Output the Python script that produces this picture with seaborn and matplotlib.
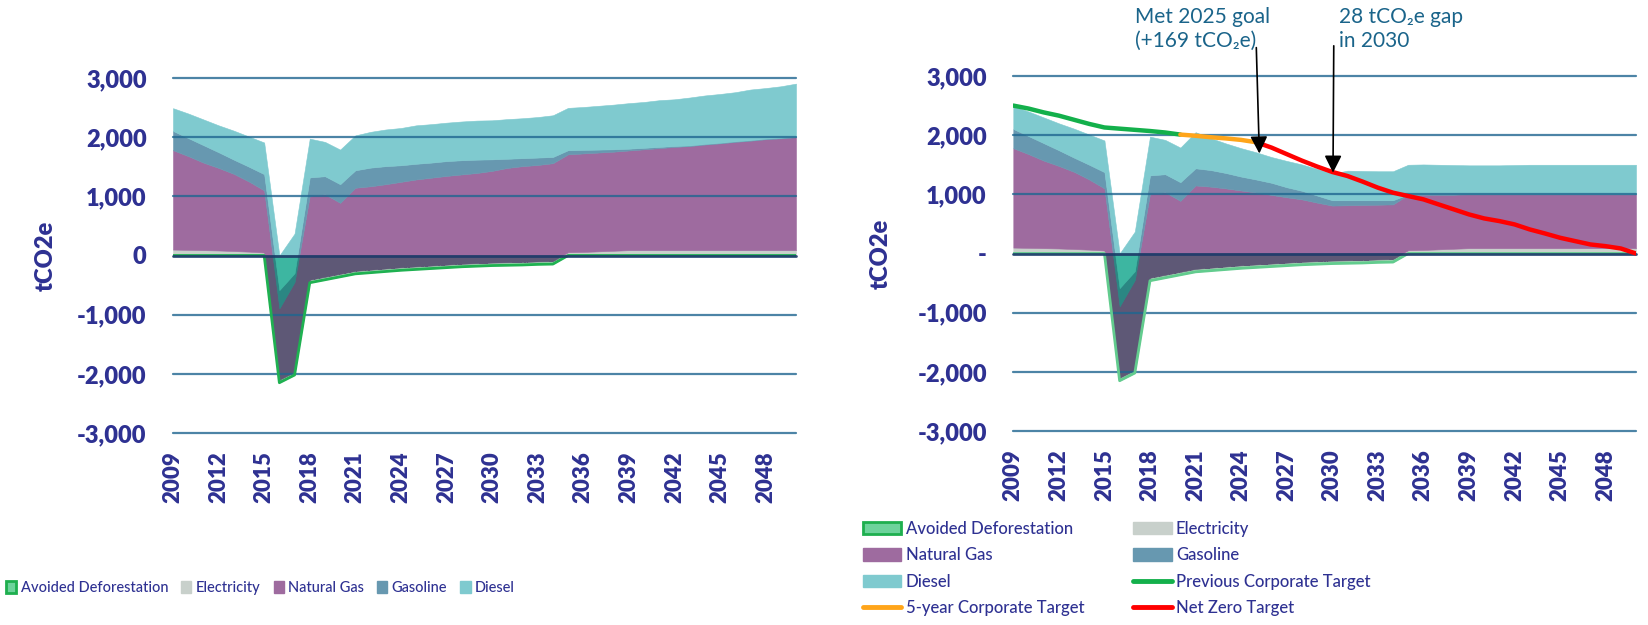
import numpy as np
import matplotlib
matplotlib.use("Agg")
import matplotlib.pyplot as plt
from matplotlib.patches import Patch
from matplotlib.lines import Line2D
from matplotlib.path import Path
import seaborn as sns

# ---- data (tCO2e per year) ----
years = list(range(2009, 2051))

avoided_deforestation = [0, 0, 0, 0, 0, 0, 0,
                         -2150, -2020, -460, -410, -360, -310, -290, -270, -250,
                         -235, -220, -205, -190, -180, -170, -165, -160, -150, -145,
                         0, 0, 0, 0, 0, 0, 0, 0, 0, 0, 0, 0, 0, 0, 0, 0]
electricity = [100, 95, 90, 85, 75, 65, 50,
               50, 50, 50, 50, 50, 50, 50, 50, 50,
               50, 50, 50, 50, 50, 50, 50, 50, 50, 50,
               55, 60, 70, 80, 90, 90, 90, 90, 90, 90, 90, 90, 90, 90, 90, 90]

# left panel: current trajectory
natural_gas_bau = [1680, 1585, 1480, 1395, 1305, 1185, 1050,
                   1205, 1520, 1420, 1395, 1200,
                   1405, 1410, 1425, 1445, 1470, 1485, 1500, 1510, 1525, 1550,
                   1595, 1620, 1630, 1655, 1655, 1665, 1670, 1675, 1685, 1705,
                   1725, 1745, 1760, 1785, 1805, 1830, 1850, 1875, 1890, 1910]
gasoline_bau = [325, 305, 295, 265, 240, 250, 275,
                310, 150, 310, 305, 315,
                295, 315, 305, 280, 265, 255, 250, 240, 225, 195,
                155, 135, 125, 105, 70, 60, 50, 40, 30, 25,
                20, 15, 10, 10, 10, 10, 10, 10, 10, 10]
diesel_bau = [385, 415, 435, 455, 490, 510, 535,
              585, 670, 655, 580, 585,
              590, 605, 620, 630, 650, 650, 650, 655, 660, 660,
              670, 675, 685, 705, 715, 725, 740, 755, 770, 775,
              790, 790, 810, 820, 825, 830, 855, 855, 870, 895]

# right panel: reduction pathway
natural_gas_plan = [1680, 1585, 1480, 1395, 1305, 1185, 1050,
                    1205, 1520, 1420, 1395, 1200,
                    1410, 1370, 1320, 1265, 1215, 1160, 1105, 1055, 990, 930,
                    930, 930, 925, 925, 935, 935, 925, 915, 910, 910,
                    910, 910, 910, 910, 910, 910, 910, 910, 910, 910]
gasoline_plan = [325, 305, 295, 265, 240, 250, 275,
                 310, 150, 310, 305, 315,
                 290, 280, 260, 235, 220, 205, 170, 145, 120, 90,
                 85, 80, 75, 70, 10, 5, 5, 5, 5, 5,
                 5, 5, 5, 5, 5, 5, 5, 5, 5, 5]
diesel_plan = [385, 415, 435, 455, 490, 510, 535,
               585, 670, 655, 580, 585,
               610, 540, 500, 480, 460, 435, 445, 445, 450, 450,
               500, 495, 490, 490, 500, 505, 500, 495, 485, 485,
               485, 490, 495, 495, 495, 495, 495, 495, 495, 495]

prev_target_years = list(range(2009, 2021))
prev_target = [2500, 2450, 2385, 2330, 2260, 2190, 2130, 2110, 2090, 2070, 2045, 2010]
five_year_years = list(range(2020, 2026))
five_year_target = [2010, 1990, 1965, 1945, 1920, 1880]
net_zero_years = list(range(2025, 2051))
net_zero_target = [1880, 1790, 1680, 1570, 1470, 1378, 1310, 1215, 1113, 1028,
                   971, 915, 830, 746, 661, 593, 548, 492, 407, 339,
                   266, 209, 153, 124, 85, 0]

series_names = ["Electricity", "Natural Gas", "Gasoline", "Diesel"]
fill_colors = ["#C8D0CB", "#9E6B9F", "#6798B0", "#7FCACF"]
under_colors = ["#A3D2B3", "#5E5876", "#2B8783", "#3DB6A1"]  # where they overlap the negative offset
ad_green = "#6DD39B"
navy = "#2E3192"
grid_col = "#1F6690"

sns.set_style("white")
plt.rcParams["font.family"] = ["Lato", "DejaVu Sans"]

fig = plt.figure(figsize=(16.48, 6.25), dpi=100)
ax_l = fig.add_axes([173 / 1648, 1 - 433 / 625, 623 / 1648, 355 / 625])
ax_r = fig.add_axes([1013.3 / 1648, 1 - 431 / 625, 622.7 / 1648, 355 / 625])


def draw_panel(ax, gas_nat, gasoline, diesel, edge, zero_label):
    x = np.array(years, float)
    ad = np.array(avoided_deforestation, float)
    ax.fill_between(x, 0, ad, color=ad_green, lw=0, zorder=1)
    verts = np.column_stack([np.r_[x, x[::-1], x[0]],
                             np.r_[ad, np.zeros_like(ad), ad[0]]])
    clip = Path(verts, closed=True)
    base = ad.copy()
    for vals, c, dark in zip([electricity, gas_nat, gasoline, diesel],
                             fill_colors, under_colors):
        top = base + np.array(vals, float)
        ax.fill_between(x, base, top, color=c, ec=c, lw=0.4, zorder=2)
        ov = ax.fill_between(x, base, top, color=dark, ec=dark, lw=0.4, zorder=2.5)
        ov.set_clip_path(clip, ax.transData)
        base = top
    sns.lineplot(x=years, y=avoided_deforestation, ax=ax, color=edge, lw=2,
                 zorder=4, legend=False)

    for v in range(-3000, 3001, 1000):
        if v == 0:
            ax.axhline(v, color="#1D3B6A", lw=2, alpha=0.9, zorder=4.5, clip_on=False)
        else:
            ax.axhline(v, color=grid_col, lw=1.6, alpha=0.8, zorder=3, clip_on=False)

    ax.set_xlim(2009, 2050)
    ax.set_ylim(-3000, 3000)
    ticks = list(range(-3000, 3001, 1000))
    labels = [zero_label if t == 0 else f"{t:,}" for t in ticks]
    ax.set_yticks(ticks, labels=labels, fontsize=17, fontweight="heavy", color=navy)
    ax.set_xticks(years[::3], labels=[str(y) for y in years[::3]], rotation=90,
                  fontsize=16, fontweight="heavy", color=navy)
    ax.tick_params(axis="y", length=0, pad=19)
    ax.tick_params(axis="x", length=0, pad=13)
    ax.set_ylabel("tCO2e", fontsize=17, fontweight="heavy", color=navy)
    ax.set_xlabel("")
    for s in ax.spines.values():
        s.set_visible(False)


draw_panel(ax_l, natural_gas_bau, gasoline_bau, diesel_bau, "#1FB151", "0")
ax_l.yaxis.set_label_coords(-0.186, 0.5)
draw_panel(ax_r, natural_gas_plan, gasoline_plan, diesel_plan, "#62CC8E", "-")
ax_r.yaxis.set_label_coords(-0.195, 0.5)

# target lines
sns.lineplot(x=prev_target_years, y=prev_target, ax=ax_r, color="#13B04B", lw=3.2, zorder=6)
sns.lineplot(x=five_year_years, y=five_year_target, ax=ax_r, color="#FFA51A", lw=3.2, zorder=6)
sns.lineplot(x=net_zero_years, y=net_zero_target, ax=ax_r, color="#FF0000", lw=3.2, zorder=6)

# callouts
arrow = dict(arrowstyle="-|>", color="black", lw=1.2, mutation_scale=26,
             shrinkA=0, shrinkB=0)
ax_r.annotate("", xy=(2025.2, 1690), xytext=(2025.0, 3480), arrowprops=arrow,
              annotation_clip=False, zorder=7)
ax_r.annotate("", xy=(2030.05, 1366), xytext=(2030.1, 3510), arrowprops=arrow,
              annotation_clip=False, zorder=7)
note_font = dict(fontsize=15, color="#1A648A", va="top", ha="left",
                 linespacing=1.25, family=["Lato", "DejaVu Sans"])
fig.text(1135 / 1648, 1 - 7 / 625, "Met 2025 goal\n(+169 tCO\u2082e)", **note_font)
fig.text(1339 / 1648, 1 - 7 / 625, "28 tCO\u2082e gap\nin 2030", **note_font)

# legends
patches = [Patch(facecolor=ad_green, edgecolor="#1EAF4E", lw=2)] + \
          [Patch(facecolor=c, edgecolor=c) for c in fill_colors]
names = ["Avoided Deforestation"] + series_names
fig.legend(patches, names, loc="center left", bbox_to_anchor=(6 / 1648, 1 - 588 / 625),
           ncol=5, frameon=False, handlelength=0.7, handleheight=0.8,
           handletextpad=0.3, columnspacing=0.9, prop=dict(size=10.5, weight="medium"),
           labelcolor=navy, borderpad=0, borderaxespad=0)

line_handles = [Line2D([], [], color="#13B04B", lw=3.5),
                Line2D([], [], color="#FFA51A", lw=3.5),
                Line2D([], [], color="#FF0000", lw=3.5)]
# column-major order so rows read left to right
r_handles = [patches[0], patches[2], patches[4], line_handles[1],
             patches[1], patches[3], line_handles[0], line_handles[2]]
r_names = ["Avoided Deforestation", "Natural Gas", "Diesel", "5-year Corporate Target",
           "Electricity", "Gasoline", "Previous Corporate Target", "Net Zero Target"]
fig.legend(r_handles, r_names, loc="upper left", bbox_to_anchor=(863 / 1648, 1 - 521 / 625),
           ncol=2, frameon=False, handlelength=2.3, handleheight=0.78,
           handletextpad=0.25, columnspacing=2.95, labelspacing=0.62,
           prop=dict(size=12, weight="medium"),
           labelcolor=navy, borderpad=0, borderaxespad=0)

fig.savefig("out.png", dpi=100)
